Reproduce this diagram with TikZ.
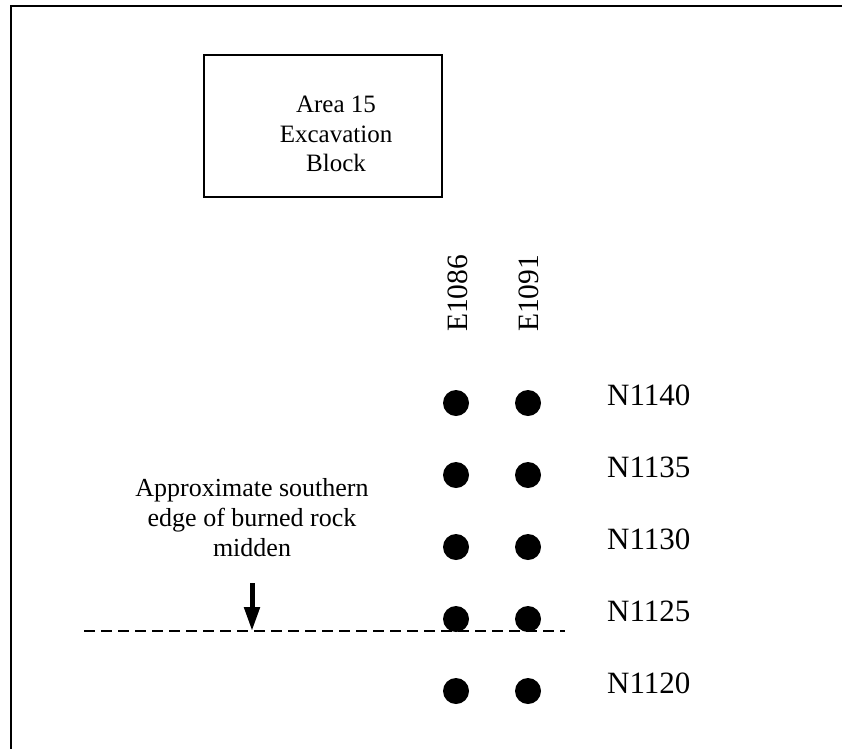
\documentclass[tikz,border=0pt]{standalone}
\usepackage{fontspec}
\setmainfont{Liberation Serif}
\usetikzlibrary{arrows.meta}
\tikzset{
  gridpt/.style={circle,fill=black,inner sep=0pt,minimum size=26pt},
  northlbl/.style={anchor=base west,inner sep=0pt,font=\fontsize{31}{36}\selectfont},
  eastlbl/.style={anchor=base west,rotate=90,inner sep=0pt,font=\fontsize{29.5}{34}\selectfont},
  blockbox/.style={draw,line width=2pt,minimum width=238pt,minimum height=142pt,inner sep=0pt},
  plaintext/.style={align=center,inner sep=0pt,font=\fontsize{25}{29.5}\selectfont},
  edgeline/.style={line width=1.4pt,dash pattern=on 10.5pt off 6.5pt},
  pointer/.style={line width=5pt,-{Triangle[width=15pt,length=24pt]}}
}
\begin{document}
\begin{tikzpicture}[x=1pt,y=-1pt]
\useasboundingbox (0,0) rectangle (842,748);
% outer frame (top and left edges)
\draw[line width=2.2pt] (11,760) -- (11,6) -- (850,6);

% excavation block
\node[blockbox] (block) at (323,126) {};
\node[plaintext] (blocktext) at (336,134) {Area 15\\Excavation\\Block};

% easting labels
\node[eastlbl] (e1086) at (467,332) {E1086};
\node[eastlbl] (e1091) at (538,332) {E1091};

% grid points and northing labels
\foreach \n/\y in {1140/403,1135/475,1130/547,1125/619,1120/691}{
  \node[gridpt] (a\n) at (456,\y) {};
  \node[gridpt] (b\n) at (528,\y) {};
  \node[northlbl] (n\n) at (607,\y+2) {N\n};
}

% midden edge
\coordinate (edgeW) at (84,631);
\coordinate (edgeE) at (565,631);
\draw[edgeline] (edgeW) -- (edgeE);
\node[plaintext,font=\fontsize{26}{30}\selectfont,anchor=south] (midlbl) at (252,557)
  {Approximate southern\\edge of burned rock\\midden};
\coordinate (arrowtop) at (252,583);
\coordinate (arrowtip) at (252,631);
\draw[pointer] (arrowtop) -- (arrowtip);
\end{tikzpicture}
\end{document}
